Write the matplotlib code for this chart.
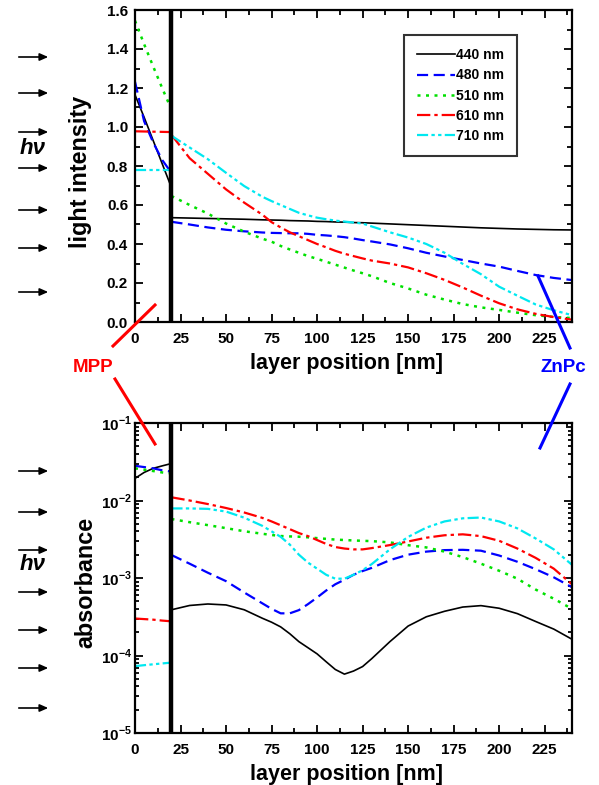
import matplotlib
matplotlib.use("Agg")
import matplotlib.pyplot as plt
from matplotlib.lines import Line2D
from matplotlib.ticker import FixedLocator, MultipleLocator, LogLocator, FixedFormatter, NullFormatter

plt.rcParams['font.family'] = ['Liberation Sans', 'DejaVu Sans']
plt.rcParams['font.weight'] = 'bold'
plt.rcParams['mathtext.fontset'] = 'custom'
plt.rcParams['mathtext.rm'] = 'Liberation Sans:bold'
plt.rcParams['mathtext.bf'] = 'Liberation Sans:bold'

# ---------------- data ----------------
labels = ['440 nm', '480 nm', '510 nm', '610 mn', '710 nm']
colors = ['black', '#0000ff', '#00e000', '#ff0000', '#00e8f0']

x_mpp = [0, 5, 10, 15, 20]
x_znpc = [20, 30, 40, 50, 60, 70, 75, 80, 85, 90, 95, 100, 105, 110, 115, 120, 125, 130,
          140, 150, 160, 170, 180, 190, 200, 210, 220, 230, 240]

# light intensity, MPP layer
int_mpp_440 = [1.165, 1.05, 0.93, 0.81, 0.69]
int_mpp_480 = [1.232, 1.03, 0.92, 0.83, 0.765]
int_mpp_510 = [1.545, 1.425, 1.31, 1.198, 1.09]
int_mpp_610 = [0.978, 0.977, 0.976, 0.975, 0.974]
int_mpp_710 = [0.777, 0.777, 0.777, 0.777, 0.777]

# light intensity, ZnPc layer
int_zn_440 = [0.535, 0.533, 0.531, 0.529, 0.527, 0.524, 0.523, 0.522, 0.520, 0.519, 0.518, 0.516,
              0.515, 0.513, 0.512, 0.510, 0.509, 0.507, 0.503, 0.499, 0.495, 0.491, 0.487, 0.483,
              0.480, 0.477, 0.475, 0.473, 0.472]
int_zn_480 = [0.514, 0.50, 0.485, 0.473, 0.465, 0.459, 0.457, 0.456, 0.455, 0.455, 0.452, 0.447,
              0.444, 0.44, 0.435, 0.428, 0.42, 0.413, 0.398, 0.378, 0.355, 0.336, 0.318, 0.30,
              0.284, 0.262, 0.241, 0.226, 0.215]
int_zn_510 = [0.646, 0.60, 0.556, 0.505, 0.463, 0.427, 0.412, 0.39, 0.372, 0.355, 0.338, 0.324,
              0.309, 0.294, 0.279, 0.264, 0.25, 0.235, 0.20, 0.172, 0.14, 0.115, 0.092, 0.075,
              0.062, 0.048, 0.035, 0.026, 0.02]
int_zn_610 = [0.96, 0.84, 0.76, 0.68, 0.612, 0.55, 0.512, 0.485, 0.46, 0.44, 0.42, 0.40,
              0.383, 0.365, 0.35, 0.338, 0.326, 0.315, 0.30, 0.28, 0.25, 0.216, 0.177, 0.135,
              0.096, 0.065, 0.042, 0.025, 0.012]
int_zn_710 = [0.955, 0.895, 0.835, 0.765, 0.697, 0.642, 0.62, 0.60, 0.58, 0.56, 0.547, 0.535,
              0.527, 0.52, 0.515, 0.51, 0.505, 0.49, 0.46, 0.433, 0.40, 0.355, 0.298, 0.245,
              0.181, 0.135, 0.09, 0.06, 0.035]

# absorbance, MPP layer
abs_mpp_440 = [0.0193, 0.023, 0.026, 0.028, 0.030]
abs_mpp_480 = [0.028, 0.027, 0.026, 0.0245, 0.0236]
abs_mpp_510 = [0.026, 0.025, 0.024, 0.023, 0.0224]
abs_mpp_610 = [3.0e-4, 2.95e-4, 2.9e-4, 2.82e-4, 2.76e-4]
abs_mpp_710 = [7.3e-5, 7.5e-5, 7.7e-5, 7.9e-5, 8.1e-5]

# absorbance, ZnPc layer
abs_zn_440 = [3.89e-4, 4.42e-4, 4.62e-4, 4.49e-4, 3.89e-4, 3.02e-4, 2.69e-4, 2.34e-4, 1.91e-4,
              1.51e-4, 1.26e-4, 1.05e-4, 8.3e-5, 6.6e-5, 5.75e-5, 6.3e-5, 7.2e-5, 9.1e-5,
              1.51e-4, 2.4e-4, 3.16e-4, 3.72e-4, 4.22e-4, 4.4e-4, 4.07e-4, 3.47e-4, 2.75e-4,
              2.19e-4, 1.62e-4]
abs_zn_480 = [1.98e-3, 1.53e-3, 1.17e-3, 9.1e-4, 6.5e-4, 4.7e-4, 4.0e-4, 3.5e-4, 3.5e-4,
              3.85e-4, 4.6e-4, 5.6e-4, 6.9e-4, 8.3e-4, 9.5e-4, 1.1e-3, 1.23e-3, 1.35e-3,
              1.7e-3, 2.0e-3, 2.19e-3, 2.29e-3, 2.31e-3, 2.25e-3, 1.95e-3, 1.62e-3, 1.3e-3,
              1.02e-3, 7.6e-4]
abs_zn_510 = [5.77e-3, 5.25e-3, 4.81e-3, 4.4e-3, 4.01e-3, 3.72e-3, 3.59e-3, 3.48e-3, 3.44e-3,
              3.41e-3, 3.35e-3, 3.27e-3, 3.2e-3, 3.13e-3, 3.09e-3, 3.05e-3, 3.02e-3, 2.99e-3,
              2.88e-3, 2.65e-3, 2.48e-3, 2.19e-3, 1.86e-3, 1.53e-3, 1.24e-3, 9.8e-4, 7.1e-4,
              5.4e-4, 4.0e-4]
abs_zn_610 = [1.1e-2, 1.0e-2, 9.0e-3, 8.0e-3, 7.0e-3, 5.96e-3, 5.37e-3, 4.79e-3, 4.27e-3,
              3.8e-3, 3.47e-3, 3.09e-3, 2.75e-3, 2.51e-3, 2.4e-3, 2.34e-3, 2.34e-3, 2.43e-3,
              2.66e-3, 2.96e-3, 3.31e-3, 3.56e-3, 3.66e-3, 3.47e-3, 3.02e-3, 2.4e-3, 1.82e-3,
              1.32e-3, 8.3e-4]
abs_zn_710 = [7.9e-3, 7.9e-3, 7.8e-3, 7.2e-3, 6.0e-3, 4.7e-3, 4.0e-3, 3.4e-3, 2.7e-3,
              2.0e-3, 1.58e-3, 1.32e-3, 1.1e-3, 9.8e-4, 9.8e-4, 1.1e-3, 1.26e-3, 1.51e-3,
              2.34e-3, 3.39e-3, 4.47e-3, 5.37e-3, 5.89e-3, 6.03e-3, 5.37e-3, 4.37e-3, 3.24e-3,
              2.34e-3, 1.48e-3]

x_ticks = [0, 25, 50, 75, 100, 125, 150, 175, 200, 225]
int_ticks = [0.0, 0.2, 0.4, 0.6, 0.8, 1.0, 1.2, 1.4, 1.6]
abs_ticks = [1e-5, 1e-4, 1e-3, 1e-2, 1e-1]
abs_tick_labels = [r'$10^{-5}$', r'$10^{-4}$', r'$10^{-3}$', r'$10^{-2}$', r'$10^{-1}$']

# ---------------- styles ----------------
styles = ['-', (0, (5, 2.5)), (0, (1.2, 2.2)), (0, (6, 1.8, 1.5, 1.8)), (0, (5, 1.5, 1.5, 1.5, 1.5, 1.5))]
widths = [1.2, 1.6, 1.8, 1.6, 1.6]

W, H = 599, 785
fig = plt.figure(figsize=(W / 100, H / 100), dpi=100)

def fx(px):
    return px / W

def fy(py):
    return 1 - py / H

ax1 = fig.add_axes([fx(135), fy(322), fx(572) - fx(135), fy(10) - fy(322)])
ax2 = fig.add_axes([fx(135), fy(733), fx(572) - fx(135), fy(423) - fy(733)])

int_mpp = [int_mpp_440, int_mpp_480, int_mpp_510, int_mpp_610, int_mpp_710]
int_zn = [int_zn_440, int_zn_480, int_zn_510, int_zn_610, int_zn_710]
abs_mpp = [abs_mpp_440, abs_mpp_480, abs_mpp_510, abs_mpp_610, abs_mpp_710]
abs_zn = [abs_zn_440, abs_zn_480, abs_zn_510, abs_zn_610, abs_zn_710]

for i in range(5):
    ax1.plot(x_mpp, int_mpp[i], color=colors[i], ls=styles[i], lw=widths[i], label=labels[i])
    ax1.plot(x_znpc, int_zn[i], color=colors[i], ls=styles[i], lw=widths[i])
    ax2.plot(x_mpp, abs_mpp[i], color=colors[i], ls=styles[i], lw=widths[i])
    ax2.plot(x_znpc, abs_zn[i], color=colors[i], ls=styles[i], lw=widths[i])

ax1.set_xlim(0, 240)
ax1.set_ylim(0, 1.6)
ax2.set_xlim(0, 240)
ax2.set_yscale('log')
ax2.set_ylim(1e-5, 1e-1)

for ax in (ax1, ax2):
    ax.axvline(20, color='black', lw=3.2, zorder=5)
    for s in ax.spines.values():
        s.set_linewidth(1.6)
    ax.xaxis.set_major_locator(FixedLocator(x_ticks))
    ax.xaxis.set_minor_locator(MultipleLocator(12.5))
    ax.tick_params(which='both', direction='in', top=True, right=True, width=1.3)
    ax.tick_params(which='major', length=6, labelsize=11)
    ax.tick_params(which='minor', length=3.5)
    ax.tick_params(axis='x', pad=7)
    for lab in ax.get_xticklabels() + ax.get_yticklabels():
        lab.set_fontweight('bold')
    ax.set_xlabel('layer position [nm]', fontsize=15.5, fontweight='bold')

ax1.yaxis.set_major_locator(FixedLocator(int_ticks))
ax1.yaxis.set_minor_locator(MultipleLocator(0.1))
ax1.set_yticklabels(['%.1f' % v for v in int_ticks])
ax1.tick_params(axis='y', pad=5)

ax2.yaxis.set_major_locator(FixedLocator(abs_ticks))
ax2.yaxis.set_major_formatter(FixedFormatter(abs_tick_labels))
ax2.yaxis.set_minor_locator(LogLocator(base=10, subs=[2, 3, 4, 5, 6, 7, 8, 9], numticks=20))
ax2.yaxis.set_minor_formatter(NullFormatter())
ax2.tick_params(axis='y', which='minor', length=3)
ax2.tick_params(axis='y', pad=2, labelsize=11)

ax1.set_ylabel('light intensity', fontsize=16.8, fontweight='bold')
ax2.set_ylabel('absorbance', fontsize=16.8, fontweight='bold')
ax1.yaxis.set_label_coords(-0.098, 0.48)
ax2.yaxis.set_label_coords(-0.087, 0.487)
ax1.xaxis.set_label_coords(0.483, -0.1)
ax2.xaxis.set_label_coords(0.483, -0.1)

leg = ax1.legend(loc='upper left', bbox_to_anchor=(0.6156, 0.92), frameon=True, fancybox=False,
                 edgecolor='black', prop={'weight': 'bold', 'size': 10}, handlelength=2.7,
                 handletextpad=0.1, labelspacing=0.45, borderpad=0.95, borderaxespad=0)
leg.get_frame().set_linewidth(1.5)

# incident light arrows and h-nu
arrow_rows = [57, 93, 132, 168, 210, 248, 292, 471, 512, 550, 592, 630, 668, 708]
for py in arrow_rows:
    fig.add_artist(matplotlib.patches.FancyArrowPatch((fx(16), fy(py)), (fx(51), fy(py)),
                   transform=fig.transFigure, arrowstyle='-|>,head_length=5,head_width=2.2',
                   color='black', lw=1.2, mutation_scale=1))
for py in (149, 564):
    fig.text(fx(33), fy(py), 'hν', fontsize=16, fontweight='bold', style='italic',
             ha='center', va='center')

# layer labels with pointer lines
fig.text(fx(93), fy(367), 'MPP', color='#ff0000', fontsize=13.5, fontweight='bold',
         ha='center', va='center')
fig.text(fx(563), fy(367), 'ZnPc', color='#0000ff', fontsize=13.5, fontweight='bold',
         ha='center', va='center')
for (x0, y0, x1, y1, c) in [(113, 346, 155, 305, '#ff0000'), (115, 379, 155, 444, '#ff0000'),
                            (538, 276, 570, 348, '#0000ff'), (570, 384, 540, 448, '#0000ff')]:
    fig.add_artist(Line2D([fx(x0), fx(x1)], [fy(y0), fy(y1)], transform=fig.transFigure,
                          color=c, lw=2.2))

fig.savefig('out.png', dpi=100)
